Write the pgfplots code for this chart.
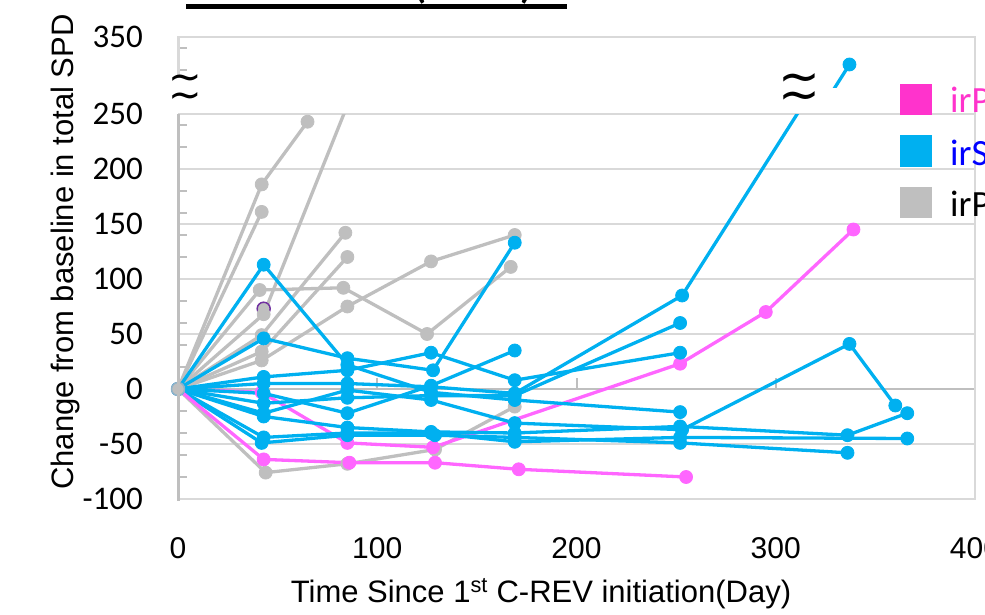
\documentclass[border=0pt]{standalone}
\usepackage{pgfplots}
\pgfplotsset{compat=1.18}
\usepackage{fontspec}
\setmainfont{Carlito}
\newfontfamily\arial{Liberation Sans}
\newfontfamily\dejavu{DejaVu Sans}
\definecolor{blueL}{HTML}{00B0F0}
\definecolor{pinkL}{HTML}{FF66FF}
\definecolor{pinkLeg}{HTML}{FF33CC}
\definecolor{grayL}{HTML}{BFBFBF}
\definecolor{gridgray}{HTML}{D9D9D9}
\definecolor{spinegray}{HTML}{BFBFBF}
\definecolor{purpleE}{HTML}{7030A0}
\definecolor{origE}{HTML}{8FB3C8}
\pgfplotsset{
  base/.style={scale only axis, width=797pt, xmin=0, xmax=400,
    axis line style={draw=none}, major tick length=0pt, minor tick length=9pt,
    tick align=inside, ytick pos=left, xtick pos=bottom,
    ytick style={draw=spinegray, line width=2pt},
    yticklabel style={font=\fontsize{33}{33}\selectfont, anchor=east, inner sep=0pt, xshift=-35pt},
    clip=true},
  gl/.style={color=grayL, line width=3.3pt, line join=round, mark=*, mark size=6.5pt, mark options={line width=0.8pt}},
  bl/.style={color=blueL, line width=3.3pt, line join=round, mark=*, mark size=6.5pt, mark options={line width=0.8pt}},
  pl/.style={color=pinkL, line width=3.3pt, line join=round, mark=*, mark size=6.5pt, mark options={line width=0.8pt}},
}
\begin{document}
\begin{tikzpicture}[x=1pt,y=1pt]
\useasboundingbox (0,0) rectangle (985,614);
\clip (0,0) rectangle (985,614);
% ---------- lower axis ----------
\begin{axis}[base, at={(178pt,115pt)}, anchor=south west, height=385pt,
  ymin=-100, ymax=250,
  ytick={-100,-50,0,50,100,150,200,250},
  yticklabels={-100,-50,0,50,100,150,200,250},
  minor ytick={-80,-60,-40,-20,20,40,60,80,120,140,160,180,220,240},
  ymajorgrids, grid style={gridgray, line width=2pt},
  xtick={0,100,200,300,400}, xticklabels={0,100,200,300,400},
  xticklabel style={font=\arial\fontsize{30}{30}\selectfont, anchor=north, inner sep=0pt, yshift=-38pt}]
\draw[spinegray, line width=2.5pt] (axis cs:0,0) -- (axis cs:400,0);
\draw[spinegray, line width=2pt] (axis cs:100,0) -- ++(0pt,11pt);
\draw[spinegray, line width=2pt] (axis cs:200,0) -- ++(0pt,11pt);
\draw[spinegray, line width=2pt] (axis cs:300,0) -- ++(0pt,11pt);
% irPD (gray)
\addplot[gl, mark options={draw=purpleE, fill=grayL, line width=1.5pt}] coordinates {(43,73)};
\addplot[gl] coordinates {(0,0) (42,186) (65,243)};
\addplot[gl] coordinates {(0,0) (42,161)};
\addplot[gl] coordinates {(0,0) (43,68) (85,258)};
\addplot[gl] coordinates {(0,0) (41,90) (83,92) (125,50) (167,111)};
\addplot[gl] coordinates {(0,0) (42,49) (84,142)};
\addplot[gl] coordinates {(0,0) (42,34) (85,120)};
\addplot[gl] coordinates {(0,0) (42,26) (85,75) (127,116) (169,140)};
\addplot[gl] coordinates {(0,0) (44,-76) (85,-68) (129,-55) (169,-16)};
% irPR (pink), second patient drawn beneath the blue lines
\addplot[pl] coordinates {(0,0) (42,-3) (85,-49) (128,-53) (252,23) (295,70) (339,145)};
% irSD (blue)
\addplot[bl] coordinates {(0,0) (43,113) (85,22) (127,-3) (169,-10) (252,-21)};
\addplot[bl] coordinates {(0,0) (43,46) (85,28) (128,17) (169,133)};
\addplot[bl] coordinates {(0,0) (43,11) (85,17) (127,33) (169,8) (252,33)};
\addplot[bl] coordinates {(0,0) (43,5) (85,5) (127,2) (169,-4) (253,85) (337,325)};
\addplot[bl] coordinates {(0,0) (43,-4) (85,-22) (127,3) (169,35)};
\addplot[bl] coordinates {(0,0) (43,-13) (85,-8) (127,-6) (169,-6) (252,60)};
\addplot[bl] coordinates {(0,0) (43,-22) (85,-1) (127,-10) (169,-31) (253,-37) (337,41) (360,-15)};
\addplot[bl] coordinates {(0,0) (43,-25) (85,-35) (127,-39) (169,-40) (252,-34) (336,-42) (366,-22)};
\addplot[bl] coordinates {(0,0) (43,-44) (85,-40) (127,-40) (169,-48) (252,-44) (366,-45)};
\addplot[bl] coordinates {(0,0) (42,-49) (85,-42) (129,-42) (169,-44) (252,-49) (336,-58)};
% irPR (pink), first patient
\addplot[pl] coordinates {(0,0) (43,-64) (86,-67) (129,-67) (171,-73) (255,-80)};
% baseline point
\addplot[gl, mark options={draw=origE, fill=grayL, line width=1.5pt}] coordinates {(0,0)};
\end{axis}
% ---------- upper axis (above the break) ----------
\begin{axis}[base, at={(178pt,526pt)}, anchor=south west, height=51pt,
  ymin=303.64, ymax=350, xtick=\empty,
  ytick={350}, yticklabels={350}, minor ytick={320,340}]
\addplot[bl] coordinates {(253,85) (337,325)};
\end{axis}
% frame
\draw[gridgray, line width=2pt] (178,115) -- (975,115) -- (975,577) -- (178,577);
\draw[spinegray, line width=3pt] (178,113.5) -- (178,500);
\draw[gridgray, line width=3pt] (178,526) -- (178,578);
% break marks
\fill[white] (170,518) rectangle (202,538);
\node[inner sep=0pt, font=\dejavu\fontsize{40}{40}\selectfont] at (185,531) {∼};
\node[inner sep=0pt, font=\dejavu\fontsize{40}{40}\selectfont] at (185,513) {∼};
\fill[white] (778,505) rectangle (820,535);
\node[inner sep=0pt, font=\dejavu\fontsize{50}{50}\selectfont] at (799,530) {∼};
\node[inner sep=0pt, font=\dejavu\fontsize{50}{50}\selectfont] at (799,512) {∼};
% legend
\fill[pinkLeg] (900,499) rectangle (932,530);
\fill[blueL] (900,447) rectangle (932,479);
\fill[grayL] (900,396) rectangle (932,427);
\node[anchor=base west, inner sep=0pt, font=\fontsize{37}{37}\selectfont, text=pinkLeg] at (950,501) {irPR};
\node[anchor=base west, inner sep=0pt, font=\fontsize{37}{37}\selectfont, text=blue] at (950,448) {irSD};
\node[anchor=base west, inner sep=0pt, font=\fontsize{37}{37}\selectfont, text=black] at (950,397) {irPD};
% axis titles
\node[rotate=90, anchor=base, inner sep=0pt, font=\arial\fontsize{31}{31}\selectfont] at (73,362) {Change from baseline in total SPD};
\node[anchor=base, inner sep=0pt, font=\arial\fontsize{31}{31}\selectfont] at (541,12) {Time Since 1\textsuperscript{st} C-REV initiation(Day)};
% title (mostly outside the picture)
\node[anchor=base west, inner sep=0pt, font=\fontsize{56}{56}\selectfont] at (186,617) {Total SPD (irRC)};
\fill[black] (186,605) rectangle (567,610);
\end{tikzpicture}
\end{document}
